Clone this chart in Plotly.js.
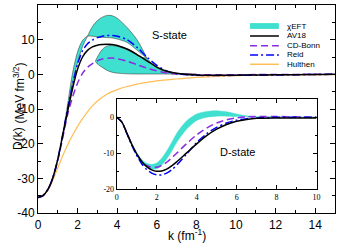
<!DOCTYPE html>
<html><head><meta charset="utf-8">
<script src="https://cdn.plot.ly/plotly-3.0.1.min.js"></script>
<style>html,body{margin:0;padding:0;background:#fff}#chart{width:337px;height:243px}</style>
</head><body><div id="chart"></div>
<script>
// ---------- S-state (main panel) ----------
const kS = [0,0.25,0.5,0.75,1,1.25,1.5,1.75,2,2.25,2.5,2.75,3,3.25,3.5,3.75,4,4.5,5,5.5,6,6.5,7,8,9,10,11,12,13,14,15];
const av18S = [-35.5,-35.0,-33.2,-29.8,-24.5,-17.5,-10.5,-4.0,1.5,5.0,6.9,7.9,8.4,8.6,8.7,8.6,8.3,7.3,5.7,3.9,2.1,0.9,0.3,-0.2,-0.3,-0.25,-0.2,-0.15,-0.1,-0.05,0];
const reidS = [-35.5,-35.0,-33.2,-29.8,-24.5,-17.3,-9.8,-3.0,3.0,6.8,8.8,9.9,10.6,11.0,11.2,11.2,11.0,10.0,7.8,5.0,2.6,1.0,0.2,-0.3,-0.35,-0.3,-0.25,-0.2,-0.1,-0.05,0];
const cdbS = [-35.5,-35.0,-33.2,-29.8,-24.8,-18.3,-11.5,-6.5,-2.5,0.3,2.0,3.1,3.9,4.4,4.65,4.7,4.5,3.8,2.8,1.8,1.0,0.4,0.1,-0.1,-0.15,-0.1,-0.08,-0.05,-0.03,0,0];
const hulS = [-35.5,-35.0,-33.5,-30.5,-27.0,-23.5,-20.3,-17.5,-15.0,-12.8,-10.8,-9.1,-7.7,-6.6,-5.7,-5.0,-4.4,-3.5,-2.8,-2.3,-1.9,-1.6,-1.35,-0.85,-0.6,-0.4,-0.3,-0.22,-0.17,-0.13,-0.1];
// chiEFT band, part 1 (two bounding curves)
const kB1 = [1.25,1.5,1.75,2,2.25,2.5,2.75,3,3.25,3.5,3.75,4,4.5,5,5.25,5.5];
const chiA = [-17.5,-8.5,0.5,6.5,9.8,11.0,11.0,10.8,10.7,10.6,10.5,10.2,9.2,7.0,5.8,4.6];
const chiU = [-17.5,-10.5,-2.5,3.5,8.0,11.0,13.8,15.5,16.5,17.0,16.9,16.2,13.5,10.0,7.5,4.6];
// chiEFT band, part 2
const kB2 = [2.9,3.0,3.25,3.5,3.75,4,4.5,5,5.25,5.5,5.75,6,6.5,7,7.5,8];
const chiBp = [3.8,5.0,7.2,8.2,8.3,8.1,7.1,5.5,4.9,4.6,3.0,1.9,0.7,0.3,0.15,0.05];
const chiL = [3.8,3.0,2.0,1.1,0.6,0.35,0.15,0.1,0.1,0.1,0.1,0.1,0.08,0.06,0.05,0.05];

// ---------- D-state (inset) ----------
const kD = [0,0.25,0.5,0.75,1,1.25,1.5,1.75,2,2.25,2.5,2.75,3,3.5,4,4.5,5,5.5,6,6.5,7,8,9,10];
const av18D = [0,-1.3,-4.3,-7.5,-10.2,-12.3,-13.7,-14.6,-15.0,-14.9,-14.4,-13.5,-12.4,-9.9,-7.4,-5.1,-3.3,-2.0,-1.1,-0.6,-0.3,-0.2,-0.2,-0.2];
const reidD = [0,-1.3,-4.4,-7.7,-10.6,-12.9,-14.5,-15.5,-16.0,-16.0,-15.5,-14.6,-13.3,-10.2,-7.0,-4.6,-2.8,-1.6,-0.8,-0.4,-0.2,0,0,0];
const cdbD = [0,-1.3,-4.3,-7.5,-10.2,-12.2,-13.4,-13.9,-13.9,-13.4,-12.5,-11.3,-10.0,-7.3,-4.9,-3.0,-1.6,-0.7,-0.2,0.1,0.2,0.2,0.1,0];
const chiHiD = [0,-1.2,-4.1,-7.2,-9.8,-11.7,-12.8,-13.1,-12.7,-11.4,-9.4,-7.0,-4.5,-1.0,0.9,1.6,1.8,1.5,0.9,0.4,0.15,0.05,0,0];
const chiLoD = [0,-1.3,-4.4,-7.7,-10.5,-12.6,-13.9,-14.4,-14.3,-13.3,-11.6,-9.4,-7.0,-3.3,-0.9,0.0,0.3,0.3,0.2,0.1,0.05,0,0,0];

// ---------- ticks / labels ----------
const xTickVals = [0,2,4,6,8,10,12,14];
const xTickText = ['0','2','4','6','8','10','12','14'];
const yTickVals = [-40,-30,-20,-10,0,10,20];
const yTickText = ['-40','-30','-20','-10','0','10','20'];
const x2TickVals = [0,2,4,6,8,10];
const x2TickText = ['0','2','4','6','8','10'];
const y2TickVals = [-20,-10,0];
const y2TickText = ['-20','-10','0'];
const legendNames = ['χEFT','AV18','CD-Bonn','Reid','Hulthen'];

const TEAL = '#40E0D0', PURPLE = '#8A2BE2', BLUE = '#0000FF', ORANGE = '#FFBE55';
const OUT = 'rgba(40,40,40,0.85)';
const sans = 'Liberation Sans, Arial, sans-serif';
const serif = 'Liberation Serif, Times New Roman, serif';

function ln(x, y, color, width, dash, ax) {
  return {x: x, y: y, type: 'scatter', mode: 'lines', hoverinfo: 'skip', showlegend: false,
    xaxis: ax ? 'x2' : 'x', yaxis: ax ? 'y2' : 'y',
    line: {color: color, width: width, dash: dash || 'solid', shape: 'spline', smoothing: 0.8}};
}

const traces = [];
traces.push(ln(kB1, chiA, OUT, 0.6));
let t = ln(kB1, chiU, OUT, 0.6); t.fill = 'tonexty'; t.fillcolor = TEAL; traces.push(t);
traces.push(ln(kB2, chiL, OUT, 0.6));
t = ln(kB2, chiBp, OUT, 0.6); t.fill = 'tonexty'; t.fillcolor = TEAL; traces.push(t);
traces.push(ln(kS, hulS, ORANGE, 1.2));
traces.push(ln(kS, cdbS, PURPLE, 1.5, '7px,4px'));
traces.push(ln(kS, reidS, BLUE, 1.5, '8px,3px,2px,3px'));
traces.push(ln(kS, av18S, 'black', 1.5));
traces.push(ln(kD, chiLoD, TEAL, 0.5, null, true));
t = ln(kD, chiHiD, TEAL, 0.5, null, true); t.fill = 'tonexty'; t.fillcolor = TEAL; traces.push(t);
traces.push(ln(kD, cdbD, PURPLE, 1.5, '7px,4px', true));
traces.push(ln(kD, reidD, BLUE, 1.5, '8px,3px,2px,3px', true));
traces.push(ln(kD, av18D, 'black', 1.5, null, true));

const axBase = {showgrid: false, zeroline: false, showline: true, linecolor: 'black', linewidth: 1,
  mirror: 'allticks', ticks: 'inside', tickcolor: 'black', tickwidth: 1};

const lgX0 = 0.714, lgX1 = 0.811, lgTX = 0.830;
const lgY = [0.899, 0.851, 0.804, 0.760, 0.715];
const shapes = [
  {type: 'rect', xref: 'paper', yref: 'paper', x0: lgX0, x1: lgX1, y0: lgY[0]-0.014, y1: lgY[0]+0.014, fillcolor: TEAL, line: {width: 0}},
  {type: 'line', xref: 'paper', yref: 'paper', x0: lgX0, x1: lgX1, y0: lgY[1], y1: lgY[1], line: {color: 'black', width: 1.5}},
  {type: 'line', xref: 'paper', yref: 'paper', x0: lgX0, x1: lgX1, y0: lgY[2], y1: lgY[2], line: {color: PURPLE, width: 1.5, dash: '7px,4px'}},
  {type: 'line', xref: 'paper', yref: 'paper', x0: lgX0, x1: lgX1, y0: lgY[3], y1: lgY[3], line: {color: BLUE, width: 1.5, dash: '8px,3px,2px,3px'}},
  {type: 'line', xref: 'paper', yref: 'paper', x0: lgX0, x1: lgX1, y0: lgY[4], y1: lgY[4], line: {color: ORANGE, width: 1.5}}
];
const annotations = legendNames.map((n, i) => ({xref: 'paper', yref: 'paper', x: lgTX, y: lgY[i], text: n,
  showarrow: false, xanchor: 'left', yanchor: 'middle', font: {family: sans, size: 8, color: 'black'}}));
annotations.push({xref: 'paper', yref: 'paper', x: 0.444, y: 0.856, text: 'S-state', showarrow: false,
  yanchor: 'middle', font: {family: sans, size: 11, color: 'black'}});
annotations.push({xref: 'paper', yref: 'paper', x: 0.736, y: 0.295, text: 'D-state', showarrow: false,
  yanchor: 'middle', font: {family: sans, size: 11, color: 'black'}});
annotations.push({xref: 'paper', yref: 'paper', x: 0.5, y: -0.108, text: 'k (fm<sup>-1</sup>)', showarrow: false,
  yanchor: 'middle', font: {family: sans, size: 12, color: 'black'}});
annotations.push({xref: 'paper', yref: 'paper', x: -0.0976, y: 0.356, text: 'D(k)', showarrow: false, textangle: -90,
  font: {family: sans, size: 12, color: 'black'}});
annotations.push({xref: 'paper', yref: 'paper', x: -0.0976, y: 0.731, text: '(MeV fm<sup>3/2</sup>)', showarrow: false, textangle: -90,
  font: {family: sans, size: 12, color: 'black'}});

const layout = {
  width: 337, height: 243,
  margin: {l: 38, r: 2, t: 5, b: 30},
  paper_bgcolor: 'white', plot_bgcolor: 'white',
  showlegend: false,
  font: {family: sans, size: 12, color: 'black'},
  xaxis: Object.assign({}, axBase, {range: [0, 15], tickmode: 'array', tickvals: xTickVals, ticktext: xTickText,
    ticklen: 5, ticklabelstandoff: 1,
    minor: {tickmode: 'linear', tick0: 0, dtick: 1, ticks: 'inside', ticklen: 3, tickcolor: 'black'},
    tickfont: {family: sans, size: 12}}),
  yaxis: Object.assign({}, axBase, {range: [-40, 20], tickmode: 'array', tickvals: yTickVals, ticktext: yTickText,
    ticklen: 5, minor: {tickmode: 'linear', tick0: 0, dtick: 5, ticks: 'inside', ticklen: 3, tickcolor: 'black'},
    tickfont: {family: sans, size: 12}}),
  xaxis2: Object.assign({}, axBase, {domain: [0.265, 0.938], anchor: 'y2', range: [0, 10], tickmode: 'array',
    tickvals: x2TickVals, ticktext: x2TickText, ticklen: 4,
    minor: {tickmode: 'linear', tick0: 0, dtick: 1, ticks: 'inside', ticklen: 2, tickcolor: 'black'},
    tickfont: {family: serif, size: 8}}),
  yaxis2: Object.assign({}, axBase, {domain: [0.114, 0.547], anchor: 'x2', range: [-20, 5], tickmode: 'array',
    tickvals: y2TickVals, ticktext: y2TickText, ticklen: 4,
    minor: {tickmode: 'linear', tick0: 0, dtick: 5, ticks: 'inside', ticklen: 2, tickcolor: 'black'},
    tickfont: {family: serif, size: 8}}),
  shapes: shapes,
  annotations: annotations
};

Plotly.newPlot('chart', traces, layout, {staticPlot: true, displayModeBar: false});
</script></body></html>
